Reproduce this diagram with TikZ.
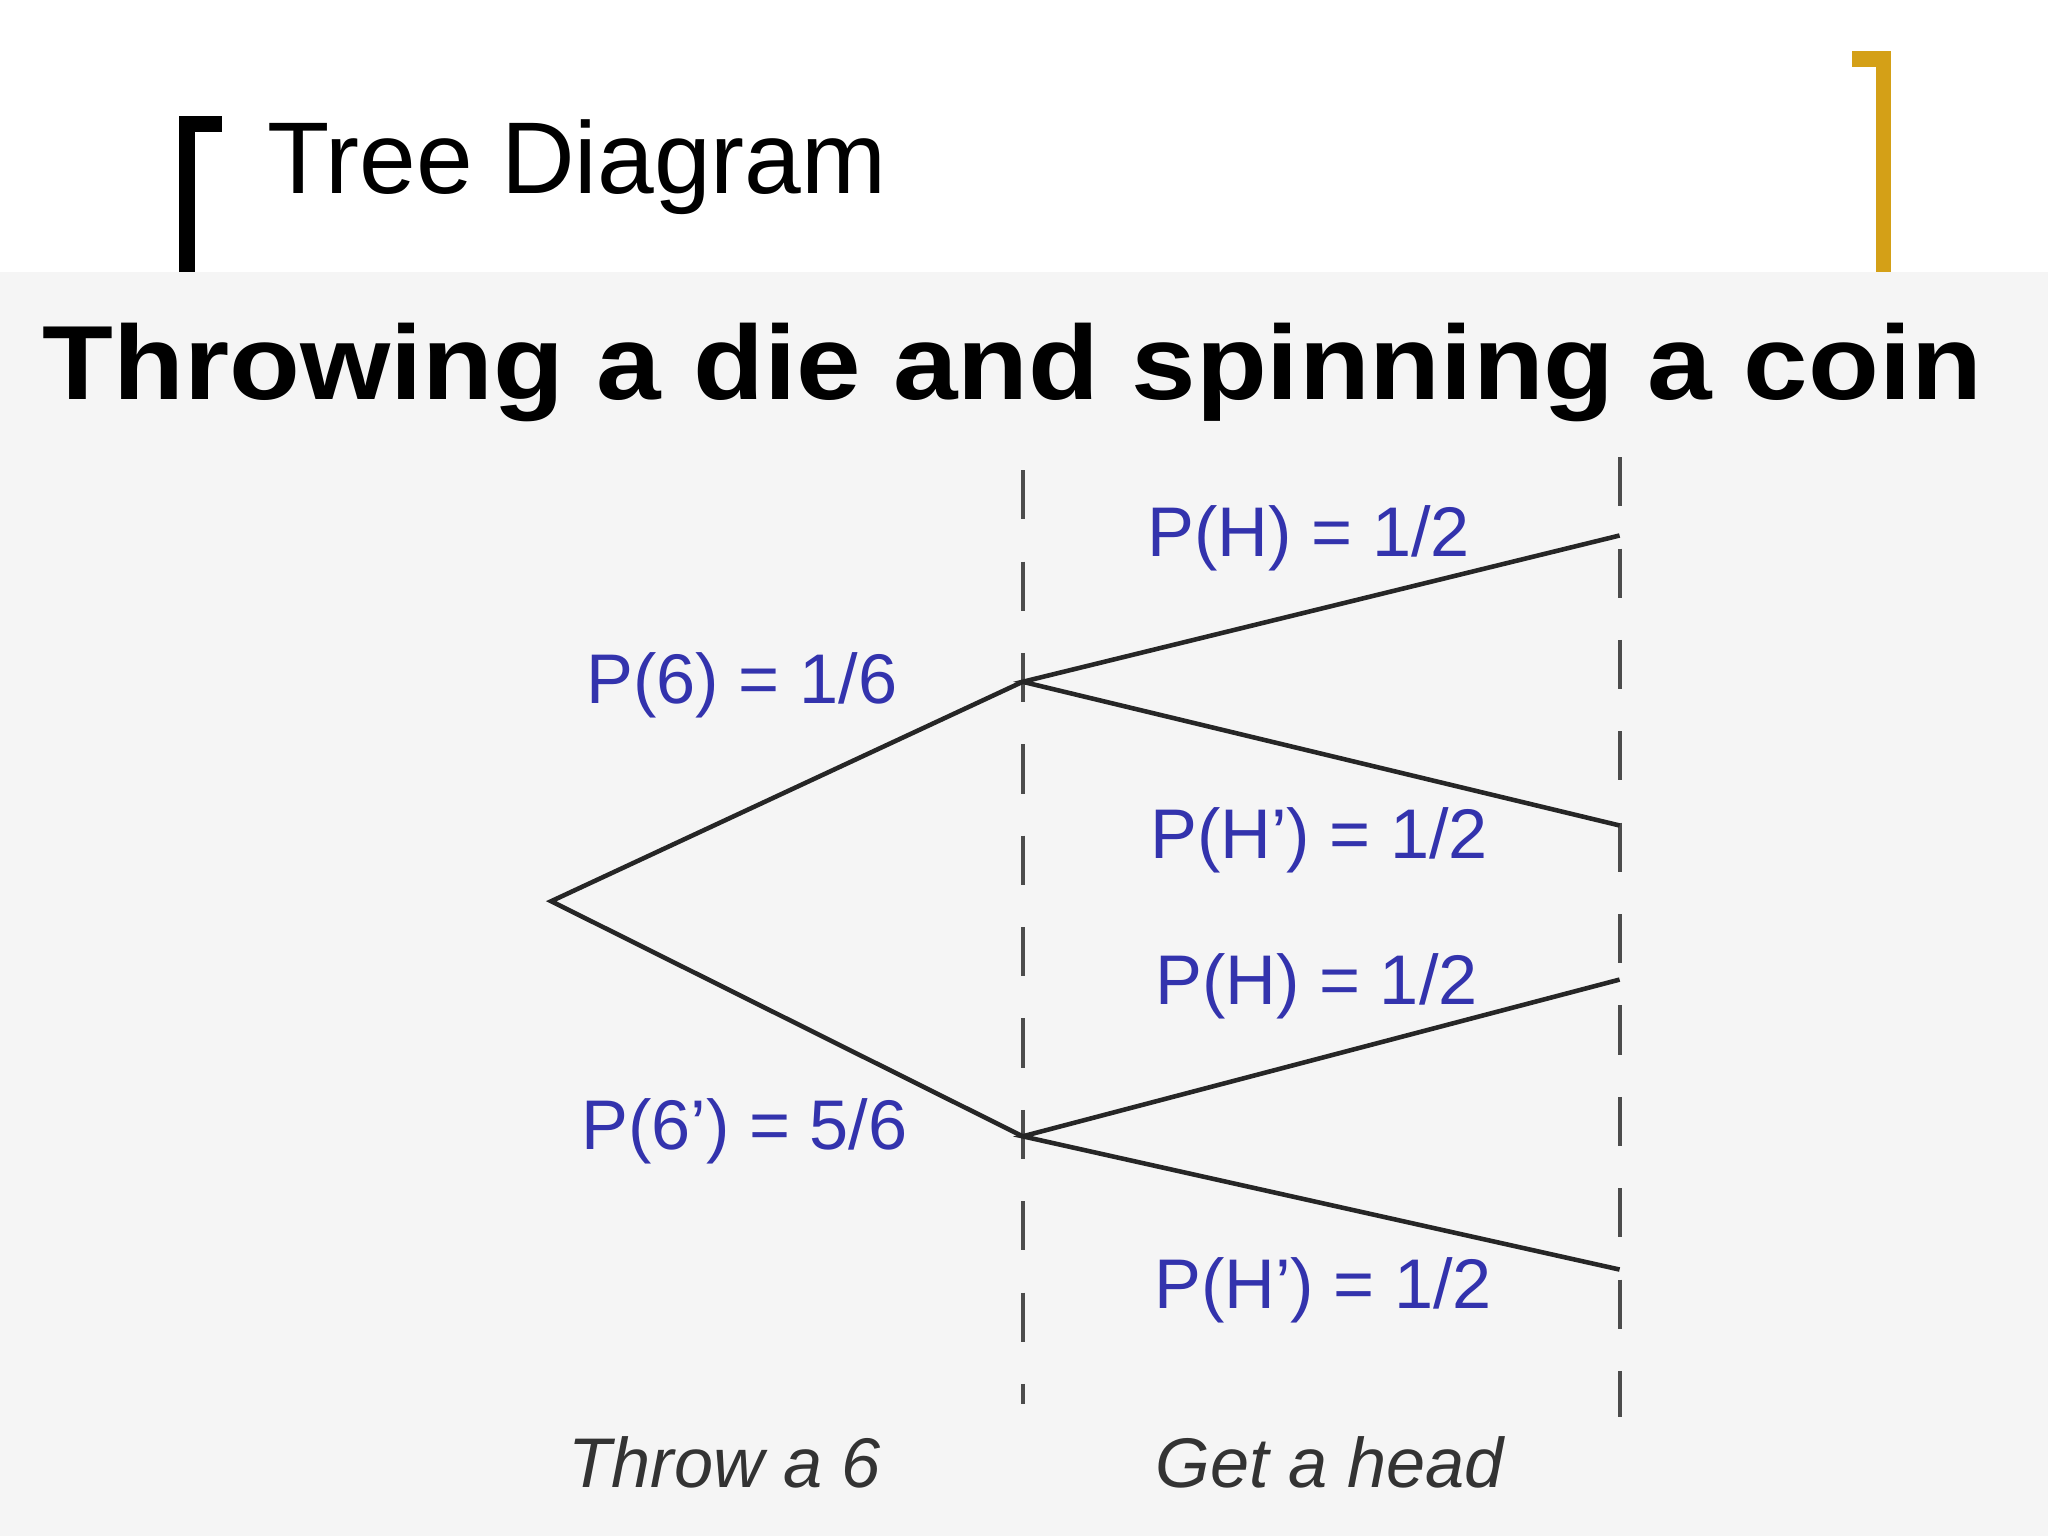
\documentclass[tikz,border=0pt]{standalone}
\usepackage{fontspec}
\setmainfont{Liberation Sans}
\begin{document}
\begin{tikzpicture}[x=0.01306cm,y=-0.01306cm,
  br/.style={line width=4.5pt},
  edge/.style={line width=1.3pt,black!85},
  dsh/.style={line width=1.1pt,black!70,dash pattern=on 14pt off 12pt},
  lab/.style={text=blue!60!black!80!white,font=\fontsize{20}{24}\selectfont},
  captxt/.style={text=black!80,font=\fontsize{20}{24}\selectfont\itshape}]
\useasboundingbox (0,0) rectangle (1568,1176);
\fill[white] (0,0) rectangle (1568,208);
\fill[black!4] (0,208) rectangle (1568,1176);
\draw[br] (143,208) -- (143,95) -- (170,95);
\draw[br,color={rgb,255:red,212;green,160;blue,23}] (1418,45) -- (1442,45) -- (1442,208);
\node[anchor=west,font=\fontsize{29}{34}\selectfont] (title) at (195,128) {Tree Diagram};
\node[font=\fontsize{30}{36}\selectfont\bfseries,xscale=1.1] (head) at (775,285) {Throwing a die and spinning a coin};
\coordinate (d1t) at (783,360); \coordinate (d1b) at (783,1075);
\coordinate (d2t) at (1240,350); \coordinate (d2b) at (1240,1085);
\draw[dsh] (d1t) -- (d1b);
\draw[dsh] (d2t) -- (d2b);
\coordinate (r) at (422,690);
\coordinate (a) at (783,522);
\coordinate (b) at (783,870);
\coordinate (a1) at (1240,410);
\coordinate (a2) at (1240,632);
\coordinate (b1) at (1240,750);
\coordinate (b2) at (1240,972);
\draw[edge] (a) -- (r) -- (b);
\draw[edge] (a1) -- (a) -- (a2);
\draw[edge] (b1) -- (b) -- (b2);
\node[lab] (l1) at (568,525) {P(6) = 1/6};
\node[lab] (l2) at (570,866) {P(6’) = 5/6};
\node[lab] (l3) at (1002,412) {P(H) = 1/2};
\node[lab] (l4) at (1010,643) {P(H’) = 1/2};
\node[lab] (l5) at (1008,755) {P(H) = 1/2};
\node[lab] (l6) at (1013,988) {P(H’) = 1/2};
\node[captxt] (c1) at (555,1120) {Throw a 6};
\node[captxt] (c2) at (1018,1120) {Get a head};
\end{tikzpicture}
\end{document}
